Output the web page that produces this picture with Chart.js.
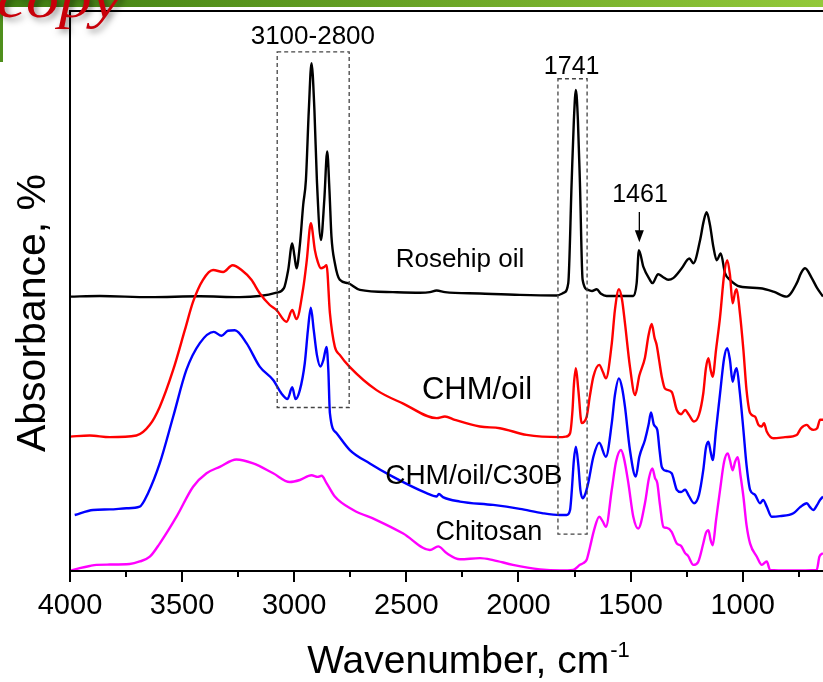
<!DOCTYPE html>
<html>
<head>
<meta charset="utf-8">
<script src="https://cdn.jsdelivr.net/npm/chart.js@4/dist/chart.umd.min.js"></script>
<style>
  html, body { margin: 0; padding: 0; background: #fff; overflow: hidden; }
  #wrap { width: 823px; height: 682px; position: relative; }
</style>
</head>
<body>
<div id="wrap"><canvas id="c" width="823" height="682"></canvas></div>
<script>
// FTIR spectra (absorbance, arbitrary offset units) vs wavenumber (cm-1)

const roseWn = [4000, 3867, 3644, 3421, 3243, 3154, 3079, 3046, 3027, 3009, 2999, 2990, 2975, 2960, 2948, 2935, 2923, 2910, 2899, 2881, 2866, 2853, 2843, 2834, 2819, 2797, 2760, 2707, 2560, 2440, 2395, 2365, 2328, 2172, 1994, 1830, 1797, 1778, 1763, 1753, 1744, 1735, 1726, 1714, 1689, 1672, 1651, 1632, 1607, 1488, 1473, 1463, 1443, 1414, 1403, 1377, 1356, 1332, 1310, 1272, 1238, 1220, 1190, 1175, 1161, 1146, 1131, 1116, 1098, 1079, 1057, 1012, 923, 863, 804, 759, 740, 722, 692, 668, 642];
const roseAbs = [49.0, 49.1, 48.9, 49.05, 48.9, 49.1, 49.7, 50.5, 53.75, 58.5, 56.25, 54.05, 58.2, 65.4, 69.8, 82.3, 90.7, 82.3, 69.8, 59.1, 66.25, 74.9, 68.0, 59.7, 55.0, 52.0, 51.4, 50.2, 49.8, 49.7, 49.8, 50.1, 49.8, 49.55, 49.3, 49.2, 49.7, 51.4, 69.3, 80.5, 85.9, 80.5, 69.3, 52.0, 50.2, 50.0, 50.3, 49.5, 49.1, 49.1, 51.4, 57.3, 54.3, 52.0, 51.4, 53.0, 52.5, 52.0, 52.3, 54.05, 55.8, 54.95, 59.1, 62.3, 64.05, 61.8, 57.9, 55.5, 56.7, 53.2, 52.0, 50.8, 50.5, 49.9, 49.0, 51.4, 53.2, 54.05, 52.3, 50.5, 49.0];

const chmOilWn = [4000, 3912, 3823, 3704, 3644, 3600, 3540, 3488, 3451, 3407, 3362, 3317, 3275, 3235, 3191, 3154, 3109, 3079, 3034, 3009, 2990, 2960, 2944, 2926, 2908, 2895, 2881, 2866, 2856, 2841, 2819, 2797, 2754, 2633, 2514, 2365, 2328, 2284, 2172, 2083, 1964, 1815, 1788, 1770, 1759, 1753, 1744, 1733, 1718, 1708, 1696, 1681, 1666, 1640, 1623, 1610, 1584, 1570, 1552, 1538, 1525, 1503, 1480, 1461, 1436, 1420, 1406, 1393, 1384, 1373, 1361, 1347, 1317, 1294, 1275, 1257, 1240, 1217, 1195, 1176, 1164, 1153, 1143, 1134, 1119, 1101, 1083, 1069, 1057, 1045, 1034, 1027, 1014, 997, 983, 967, 945, 930, 915, 905, 893, 863, 811, 759, 740, 714, 700, 685, 668, 655, 642];
const chmOilAbs = [24.0, 24.2, 23.9, 24.2, 26.1, 29.3, 35.9, 43.0, 48.1, 52.0, 53.75, 53.4, 54.6, 53.75, 52.0, 49.6, 47.5, 46.6, 44.5, 46.6, 45.0, 50.5, 55.5, 62.1, 57.3, 55.2, 54.05, 54.3, 54.6, 46.1, 40.05, 38.6, 36.5, 32.3, 29.9, 27.3, 27.6, 27.0, 25.8, 25.5, 24.3, 23.9, 24.0, 24.6, 28.75, 33.2, 36.2, 32.3, 26.4, 26.6, 27.55, 31.4, 34.7, 36.8, 35.5, 34.4, 40.6, 46.6, 50.3, 48.4, 44.2, 36.5, 31.4, 34.9, 38.1, 42.1, 44.1, 41.6, 40.4, 37.7, 34.7, 32.6, 32.0, 28.75, 28.0, 28.75, 27.9, 26.7, 27.9, 31.7, 36.25, 38.0, 35.9, 34.7, 39.5, 45.4, 52.9, 55.5, 52.9, 47.8, 49.8, 50.3, 46.6, 39.5, 32.3, 28.2, 27.55, 26.1, 25.8, 26.4, 24.9, 23.7, 23.9, 24.3, 25.5, 26.1, 25.5, 25.2, 25.5, 27.0, 27.0];

const c30bWn = [3979, 3897, 3823, 3748, 3689, 3652, 3600, 3540, 3481, 3421, 3359, 3324, 3296, 3265, 3213, 3154, 3094, 3057, 3030, 3009, 2994, 2975, 2953, 2939, 2926, 2913, 2899, 2883, 2870, 2856, 2848, 2841, 2811, 2752, 2663, 2559, 2410, 2365, 2355, 2337, 2261, 2113, 1994, 1890, 1815, 1785, 1770, 1762, 1753, 1744, 1733, 1724, 1714, 1702, 1689, 1666, 1640, 1610, 1584, 1570, 1552, 1538, 1525, 1503, 1477, 1461, 1436, 1420, 1409, 1396, 1381, 1371, 1361, 1342, 1317, 1294, 1275, 1257, 1240, 1217, 1195, 1176, 1164, 1153, 1143, 1134, 1119, 1101, 1083, 1069, 1057, 1045, 1034, 1027, 1014, 997, 983, 967, 945, 923, 909, 893, 871, 834, 774, 744, 714, 700, 685, 668, 655, 642];
const c30bAbs = [10.0, 10.9, 11.0, 11.2, 11.5, 13.9, 19.2, 27.55, 35.9, 40.7, 42.7, 42.0, 42.9, 43.0, 40.7, 36.5, 34.1, 31.7, 30.7, 32.8, 30.7, 32.3, 37.1, 43.0, 47.0, 43.0, 38.6, 36.5, 37.7, 40.0, 35.9, 28.2, 24.6, 21.6, 19.2, 16.8, 13.9, 13.3, 13.75, 13.2, 12.4, 11.8, 11.1, 10.3, 10.0, 10.0, 10.9, 14.5, 19.8, 22.2, 18.9, 14.5, 13.0, 13.75, 15.7, 20.4, 22.9, 20.4, 26.4, 31.4, 34.4, 32.7, 29.3, 21.6, 16.85, 20.4, 23.4, 26.1, 28.3, 26.1, 25.2, 21.6, 18.6, 17.9, 17.45, 14.5, 14.1, 14.5, 13.4, 12.1, 13.6, 18.0, 22.0, 23.1, 21.25, 19.8, 25.2, 31.7, 38.0, 39.8, 37.7, 33.8, 35.7, 36.2, 32.3, 25.2, 18.9, 14.5, 13.6, 12.1, 12.7, 11.5, 9.7, 9.8, 10.3, 11.4, 12.1, 11.4, 10.9, 11.8, 12.7, 13.3];

const chitosanWn = [4000, 3957, 3912, 3882, 3823, 3734, 3689, 3644, 3600, 3525, 3451, 3391, 3332, 3258, 3183, 3094, 3020, 2975, 2923, 2895, 2878, 2856, 2819, 2737, 2633, 2514, 2395, 2358, 2321, 2261, 2172, 2113, 2025, 1904, 1815, 1756, 1726, 1711, 1696, 1681, 1663, 1640, 1625, 1610, 1584, 1565, 1543, 1530, 1510, 1488, 1466, 1436, 1418, 1403, 1391, 1381, 1369, 1354, 1338, 1317, 1294, 1275, 1257, 1244, 1220, 1199, 1176, 1164, 1153, 1143, 1134, 1119, 1101, 1083, 1067, 1057, 1045, 1034, 1022, 1010, 997, 983, 967, 937, 915, 893, 878, 789, 670, 658, 642];
const chitosanAbs = [0.05, 0.5, 0.9, 1.1, 1.15, 1.25, 1.7, 2.55, 4.9, 9.7, 15.05, 17.45, 18.6, 19.9, 19.2, 17.45, 15.9, 16.25, 17.1, 16.8, 17.0, 15.7, 13.3, 10.9, 9.1, 6.7, 3.75, 4.4, 3.2, 2.1, 2.3, 1.95, 1.1, 0.3, 0.1, 0.2, 1.1, 1.4, 2.0, 4.3, 7.3, 9.7, 8.9, 7.9, 14.5, 19.5, 21.6, 20.2, 15.7, 9.7, 7.6, 12.1, 16.6, 18.3, 16.6, 15.7, 11.8, 7.9, 7.7, 7.0, 4.9, 4.5, 3.2, 2.7, 1.1, 1.6, 4.9, 6.8, 7.3, 5.5, 4.6, 9.1, 14.5, 19.5, 21.0, 19.8, 18.0, 19.5, 20.3, 17.1, 13.3, 8.2, 4.9, 2.55, 1.1, 1.7, 0.2, 0.1, 0.2, 2.55, 3.2];

// axis ticks (cm-1)
const xMajorTicks = [4000, 3500, 3000, 2500, 2000, 1500, 1000];
const xMinorTicks = [3750, 3250, 2750, 2250, 1750, 1250, 750];

// text labels placed in data coordinates [wavenumber, absorbance]
const seriesNames = ['Rosehip oil', 'CHM/oil', 'CHM/oil/C30B', 'Chitosan'];
const seriesLabelPos = [[2261, 55.5], [2185, 32.3], [2199, 17.0], [2132, 6.8]];
const bandBoxes = [[3076, 2755, 92.7, 29.2], [1824, 1694, 87.9, 6.6]];
const bandLabels = ['3100-2800', '1741', '1461'];
const bandLabelPos = [[2917, 95.3], [1763, 90.0], [1458, 67.1]];
const arrowBand = [1461, 64.1, 58.7];

const FONT = '"Liberation Sans", Arial, Helvetica, sans-serif';

function toPoints(wn, ab) { return wn.map((w, i) => ({ x: w, y: ab[i] })); }

const overlay = {
  id: 'overlay',
  afterDatasetsDraw(chart) {
    const { ctx, chartArea: a, scales: { x, y } } = chart;
    ctx.save();

    // dashed band boxes
    ctx.strokeStyle = '#444';
    ctx.lineWidth = 1.3;
    ctx.setLineDash([4, 3]);
    bandBoxes.forEach(([w1, w2, top, bot]) => {
      const x1 = x.getPixelForValue(w1), x2 = x.getPixelForValue(w2);
      const y1 = y.getPixelForValue(top), y2 = y.getPixelForValue(bot);
      ctx.strokeRect(x1, y1, x2 - x1, y2 - y1);
    });
    ctx.setLineDash([]);

    // frame and ticks
    ctx.strokeStyle = '#000';
    ctx.lineWidth = 2;
    ctx.beginPath();
    ctx.moveTo(a.right + 2, a.top);
    ctx.lineTo(a.left, a.top);
    ctx.lineTo(a.left, a.bottom);
    ctx.lineTo(a.right + 2, a.bottom);
    ctx.stroke();
    ctx.beginPath();
    xMajorTicks.forEach(v => {
      const px = Math.round(x.getPixelForValue(v));
      ctx.moveTo(px, a.bottom); ctx.lineTo(px, a.bottom + 11);
    });
    xMinorTicks.forEach(v => {
      const px = Math.round(x.getPixelForValue(v));
      ctx.moveTo(px, a.bottom); ctx.lineTo(px, a.bottom + 6);
    });
    ctx.stroke();

    // text labels
    ctx.fillStyle = '#000';
    ctx.textAlign = 'center';
    ctx.textBaseline = 'middle';
    const nameSizes = [26, 31, 28, 27];
    seriesNames.forEach((t, i) => {
      ctx.font = nameSizes[i] + 'px ' + FONT;
      ctx.fillText(t, x.getPixelForValue(seriesLabelPos[i][0]), y.getPixelForValue(seriesLabelPos[i][1]));
    });
    const bandSizes = [26, 25, 25];
    bandLabels.forEach((t, i) => {
      ctx.font = bandSizes[i] + 'px ' + FONT;
      ctx.fillText(t, x.getPixelForValue(bandLabelPos[i][0]), y.getPixelForValue(bandLabelPos[i][1]));
    });

    // arrow pointing at the 1461 band
    const ax = x.getPixelForValue(arrowBand[0]);
    const ay1 = y.getPixelForValue(arrowBand[1]), ay2 = y.getPixelForValue(arrowBand[2]);
    ctx.lineWidth = 1.3;
    ctx.beginPath(); ctx.moveTo(ax, ay1); ctx.lineTo(ax, ay2 - 10); ctx.stroke();
    ctx.beginPath();
    ctx.moveTo(ax - 4.5, ay2 - 12); ctx.lineTo(ax + 4.5, ay2 - 12); ctx.lineTo(ax, ay2); ctx.closePath();
    ctx.fill();

    // axis titles
    ctx.textAlign = 'left';
    ctx.textBaseline = 'alphabetic';
    const main = 'Wavenumber, cm';
    const sup = '-1';
    ctx.font = '22px ' + FONT;
    const ws = ctx.measureText(sup).width;
    ctx.font = '39px ' + FONT;
    const w = ctx.measureText(main).width;
    const tx = 468 - (w + ws) / 2;
    ctx.fillText(main, tx, 673);
    ctx.font = '22px ' + FONT;
    ctx.fillText(sup, tx + w + 1, 657);

    ctx.save();
    ctx.translate(45, 313);
    ctx.rotate(-Math.PI / 2);
    ctx.font = '41px ' + FONT;
    ctx.textAlign = 'center';
    ctx.fillText('Absorbance, %', 0, 0);
    ctx.restore();

    // page header strip
    const g = ctx.createLinearGradient(0, 0, 823, 0);
    g.addColorStop(0, '#3f7e12');
    g.addColorStop(1, '#93c93a');
    ctx.fillStyle = g;
    ctx.fillRect(0, 0, 823, 7);
    ctx.fillStyle = '#4f8f1c';
    ctx.fillRect(0, 8, 3, 54);
    ctx.save();
    ctx.shadowColor = 'rgba(0,0,0,0.45)';
    ctx.shadowBlur = 6;
    ctx.shadowOffsetX = 3;
    ctx.shadowOffsetY = 3;
    ctx.fillStyle = '#c8000a';
    ctx.translate(121, 17);
    ctx.scale(1.22, 1);
    ctx.font = 'italic 54px "Liberation Serif", "Times New Roman", serif';
    ctx.textAlign = 'right';
    ctx.fillText('Spectroscopy', 0, 0);
    ctx.restore();
    ctx.restore();
  }
};

new Chart(document.getElementById('c'), {
  type: 'line',
  data: {
    datasets: [
      { label: seriesNames[1], data: toPoints(chmOilWn, chmOilAbs), borderColor: '#ff0000', order: 1 },
      { label: seriesNames[0], data: toPoints(roseWn, roseAbs), borderColor: '#000000', order: 2 },
      { label: seriesNames[2], data: toPoints(c30bWn, c30bAbs), borderColor: '#0000ff', order: 3 },
      { label: seriesNames[3], data: toPoints(chitosanWn, chitosanAbs), borderColor: '#ff00ff', order: 4 }
    ]
  },
  options: {
    responsive: false,
    animation: false,
    devicePixelRatio: 1,
    layout: { padding: { top: 11, right: 0, left: 0, bottom: 0 } },
    elements: {
      line: { borderWidth: 2.4, tension: 0, cubicInterpolationMode: 'monotone', fill: false },
      point: { radius: 0 }
    },
    plugins: { legend: { display: false }, tooltip: { enabled: false } },
    scales: {
      x: {
        type: 'linear', reverse: true, min: 642, max: 4000,
        afterBuildTicks: s => { s.ticks = xMajorTicks.map(v => ({ value: v })); },
        ticks: { font: { family: FONT, size: 29 }, color: '#000', padding: 10, maxRotation: 0, autoSkip: false,
                 callback: v => String(v) },
        grid: { display: false }, border: { display: false },
        afterFit: s => { s.height = 111; }
      },
      y: {
        min: 0, max: 100,
        ticks: { display: false }, grid: { display: false }, border: { display: false },
        afterFit: s => { s.width = 70; }
      }
    }
  },
  plugins: [overlay]
});
</script>
</body>
</html>
